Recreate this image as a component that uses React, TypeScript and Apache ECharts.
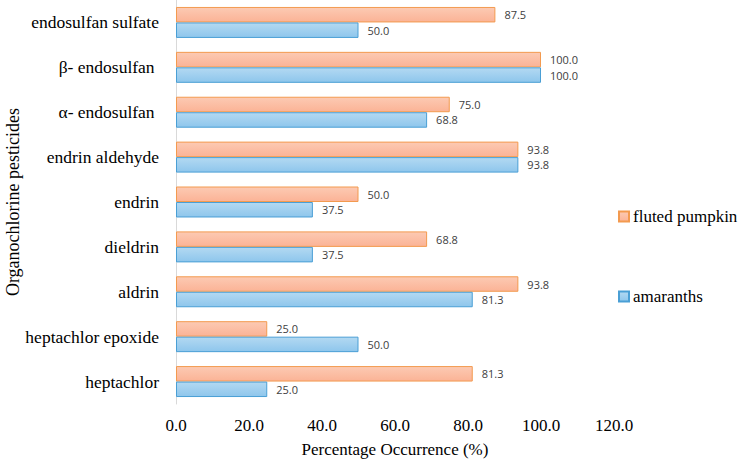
import React, { useEffect, useRef } from "react";
import * as echarts from "echarts";

const categories = [
  "heptachlor",
  "heptachlor epoxide",
  "aldrin",
  "dieldrin",
  "endrin",
  "endrin aldehyde",
  "α- endosulfan ",
  "β- endosulfan ",
  "endosulfan sulfate",
];
const flutedPumpkin = [81.3, 25.0, 93.8, 68.8, 50.0, 93.8, 75.0, 100.0, 87.5];
const amaranths = [25.0, 50.0, 81.3, 37.5, 37.5, 93.8, 68.8, 100.0, 50.0];
const xTicks = { min: 0, max: 120, interval: 20 };

const serif = "Liberation Serif";

export default function App() {
  const ref = useRef<HTMLDivElement>(null);
  useEffect(() => {
    if (!ref.current) return;
    const chart = echarts.init(ref.current, null, { renderer: "svg" });
    const orangeFill = new echarts.graphic.LinearGradient(0, 0, 0, 1, [
      { offset: 0, color: "#fccab3" },
      { offset: 1, color: "#fbb396" },
    ]);
    const blueFill = new echarts.graphic.LinearGradient(0, 0, 0, 1, [
      { offset: 0, color: "#b3d9f2" },
      { offset: 1, color: "#8ec6ec" },
    ]);
    const labelStyle = {
      show: true,
      position: "right" as const,
      distance: 9,
      fontFamily: "Open Sans",
      fontSize: 11,
      color: "#404040",
      formatter: (p: any) => Number(p.value).toFixed(1),
    };
    chart.setOption({
      animation: false,
      grid: {
        left: 176,
        right: 124,
        top: 0,
        bottom: 55,
        containLabel: false,
        outerBoundsMode: "none",
      },
      legend: {
        orient: "vertical",
        left: 613,
        top: 203,
        itemGap: 63,
        itemWidth: 10,
        itemHeight: 10,
        icon: "rect",
        data: ["fluted pumpkin", "amaranths"],
        textStyle: { fontFamily: serif, fontSize: 17, color: "#000", padding: [0, 0, 0, -1] },
      },
      xAxis: {
        type: "value",
        min: xTicks.min,
        max: xTicks.max,
        interval: xTicks.interval,
        axisLine: { show: false },
        axisTick: { show: false },
        splitLine: { show: false },
        axisLabel: {
          fontFamily: serif,
          fontSize: 17,
          color: "#000",
          margin: 13,
          formatter: (v: number) => v.toFixed(1),
        },
        name: "Percentage Occurrence (%)",
        nameLocation: "middle",
        nameGap: 37,
        nameMoveOverlap: false,
        nameTextStyle: { fontFamily: serif, fontSize: 17, color: "#000" },
      },
      yAxis: {
        type: "category",
        data: categories,
        axisLine: { show: true, lineStyle: { color: "#d9d9d9", width: 1 } },
        axisTick: { show: false },
        axisLabel: { fontFamily: serif, fontSize: 17.5, color: "#000", margin: 17 },
        name: "Organochlorine pesticides",
        nameLocation: "middle",
        nameGap: 154,
        nameRotate: 90,
        nameMoveOverlap: false,
        nameTextStyle: { fontFamily: serif, fontSize: 18, color: "#000" },
      },
      series: [
        {
          name: "fluted pumpkin",
          type: "bar",
          data: flutedPumpkin,
          barGap: "0%",
          barCategoryGap: "31%",
          itemStyle: { color: orangeFill, borderColor: "#f39a4f", borderWidth: 1 },
          label: labelStyle,
        },
        {
          name: "amaranths",
          type: "bar",
          data: amaranths,
          barGap: "0%",
          barCategoryGap: "31%",
          itemStyle: { color: blueFill, borderColor: "#4a9fd5", borderWidth: 1 },
          label: labelStyle,
        },
      ],
    });
    return () => chart.dispose();
  }, []);
  return (
    <div
      ref={ref}
      style={{ position: "absolute", left: 0, top: 0, width: 738, height: 459 }}
    />
  );
}
